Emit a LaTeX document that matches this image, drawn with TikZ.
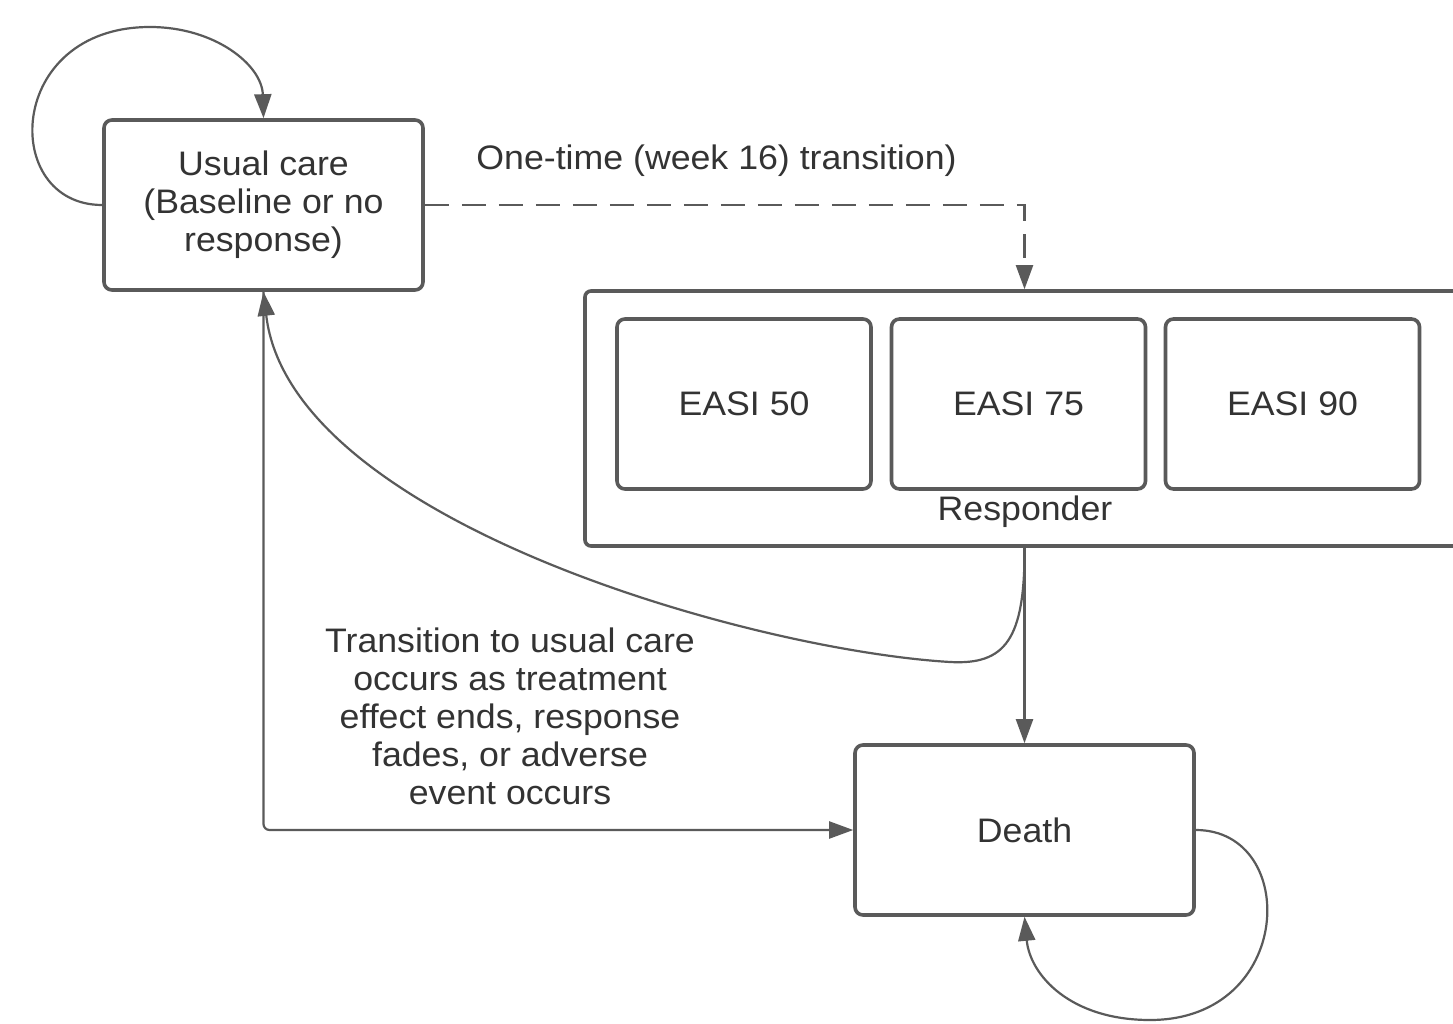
\documentclass[tikz,border=0pt]{standalone}
\usepackage{fontspec}
\setmainfont{Liberation Sans}[FakeStretch=1.05]
\usetikzlibrary{arrows.meta,calc}
\definecolor{linegray}{HTML}{5A5A5A}
\definecolor{textgray}{HTML}{333333}
\begin{document}
\begin{tikzpicture}[x=1pt,y=-1pt,
  box/.style={draw=linegray,line width=3.6pt,rounded corners=8pt,fill=white,
    inner sep=0pt,text=textgray,align=center,
    font=\fontsize{34}{38}\selectfont},
  lbl/.style={text=textgray,align=center,inner sep=0pt,font=\fontsize{34}{38}\selectfont},
  conn/.style={draw=linegray,line width=2.2pt,
    -{Triangle[length=24pt,width=17pt]}},
]
\clip (0,0) rectangle (1453,1024);
\fill[white] (0,0) rectangle (1453,1024);

% nodes
\node[box,minimum width=319pt,minimum height=170pt] (uc) at (263.5,205) {Usual care\\(Baseline or no\\response)};
\node[box,minimum width=890pt,minimum height=255pt,rounded corners=6pt] (resp) at (1030,418.5) {};
\node[box,minimum width=254pt,minimum height=170pt] (e50) at (744,404) {EASI 50};
\node[box,minimum width=254pt,minimum height=170pt] (e75) at (1018.5,404) {EASI 75};
\node[box,minimum width=254pt,minimum height=170pt] (e90) at (1292.5,404) {EASI 90};
\node[lbl] (resplbl) at (1025,512) {Responder};
\node[box,minimum width=339pt,minimum height=170pt] (d) at (1024.5,830) {Death};

\node[lbl] (onetime) at (716.5,161) {One-time (week 16) transition)};
\node[lbl] (trans) at (510,716) {Transition to usual care\\occurs as treatment\\effect ends, response\\fades, or adverse\\event occurs};

% connectors
\draw[conn,dash pattern=on 24pt off 13pt] (uc.east) -- (uc.east -| d.north) -- (d.north |- resp.north);
\draw[conn] (d.north |- resp.south) -- (d.north);
\draw[conn] (d.north |- resp.south) .. controls (1025,640) and (1005,665) .. (950,662)
  .. controls (750,650) and (290,520) .. (uc.south);
\draw[conn,rounded corners=6pt] (uc.south) -- (uc.south |- d.west) -- (d.west);
\draw[conn] (uc.west) .. controls (0,205) and (5,27) .. (150,27)
  .. controls (215,27) and (262,65) .. (uc.north);
\draw[conn] (d.east) .. controls (1300,830) and (1295,1020) .. (1150,1020)
  .. controls (1070,1020) and (1030,975) .. (d.south);
\end{tikzpicture}
\end{document}
